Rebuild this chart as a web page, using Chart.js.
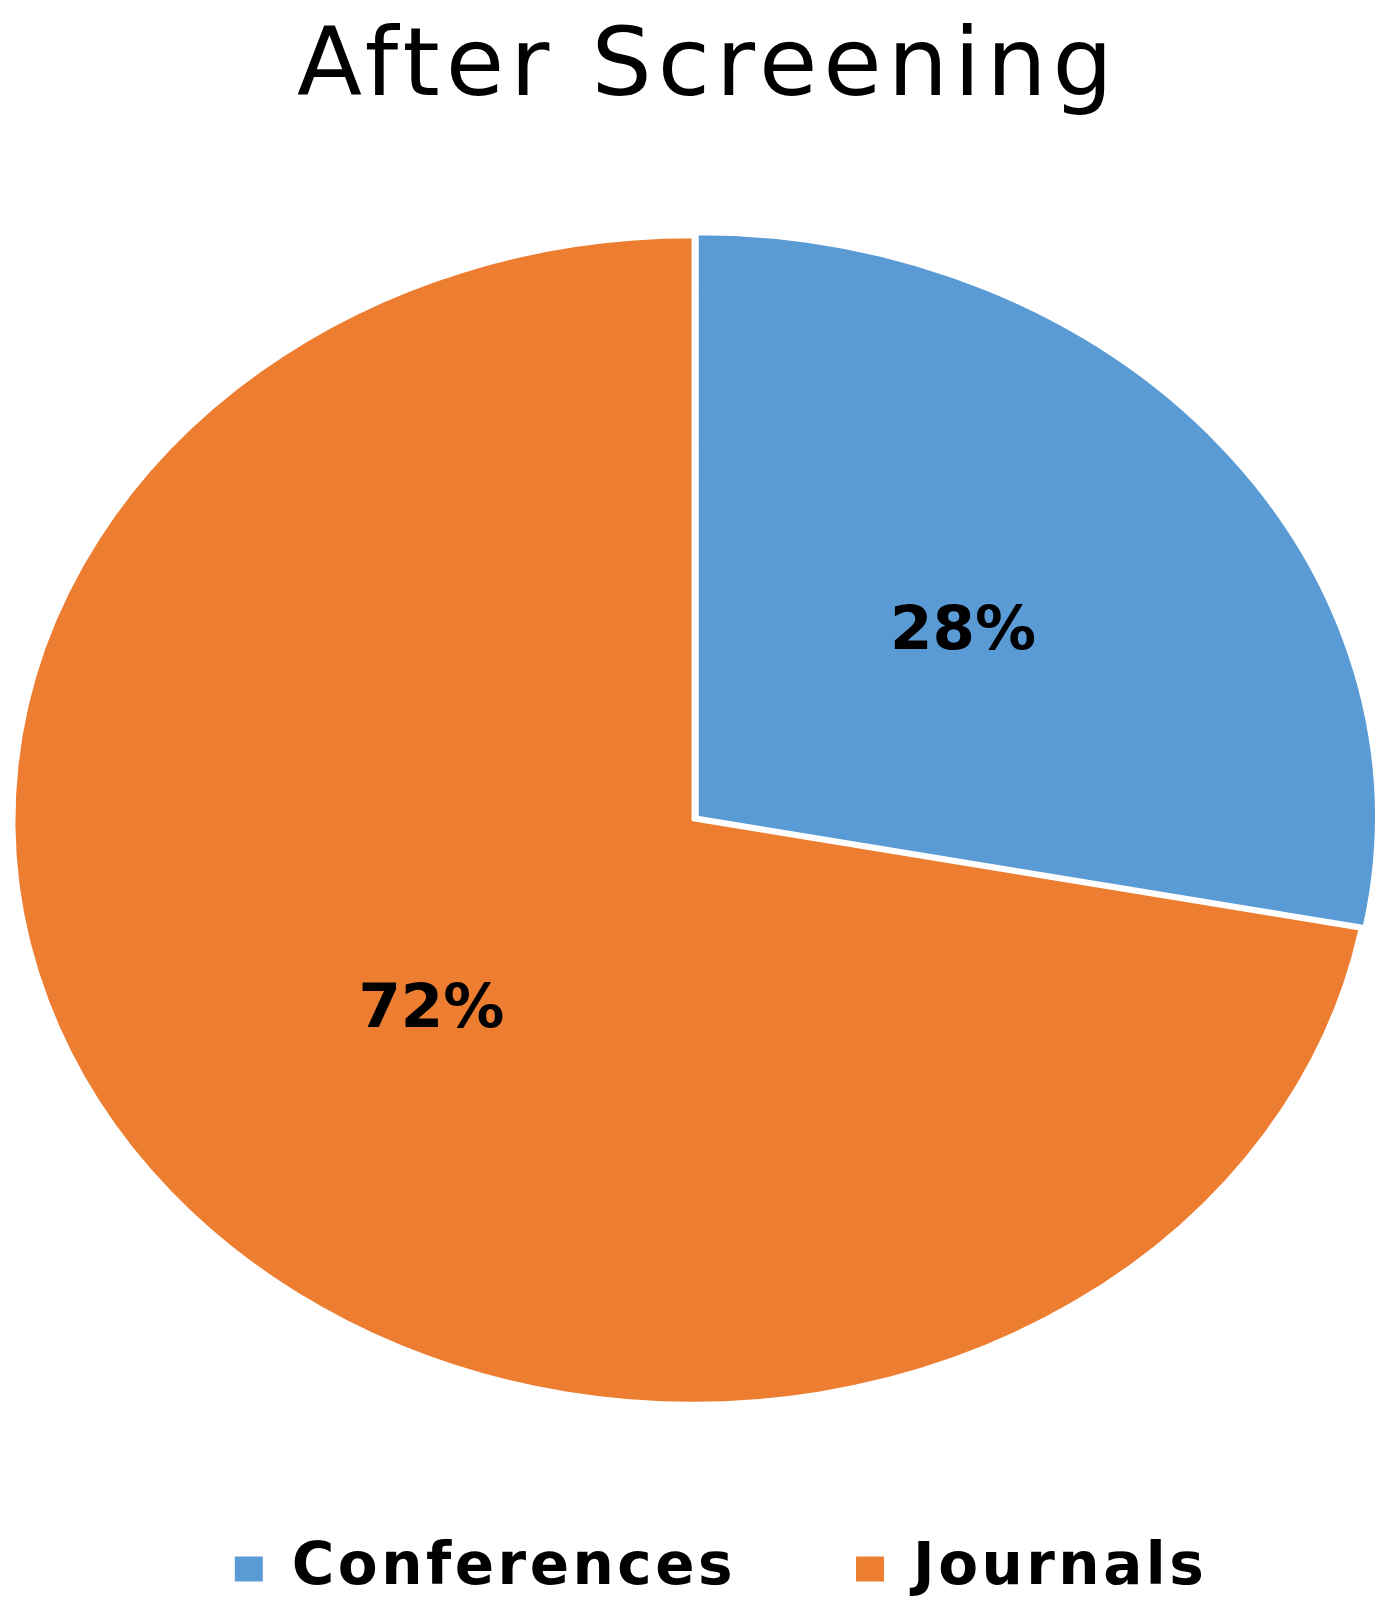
<!DOCTYPE html>
<html><head><meta charset="utf-8">
<script src="https://cdn.jsdelivr.net/npm/chart.js@4.4.1/dist/chart.umd.min.js"></script>
<style>html,body{margin:0;padding:0;background:#fff;} #wrap{width:1400px;height:1608px;}</style>
</head><body><div id="wrap"><canvas id="c" width="1400" height="1608"></canvas></div>
<script>
const categories = ['Conferences', 'Journals'];
const shares = [28, 72];
const sliceColors = ['#5B9BD5', '#ED7D31'];
const sliceOffsets = [22, 0];
const titleText = 'After Screening';

// The reference pie is an ellipse (horizontally stretched picture)
const PIE_RADIUS = 679;
const Y_SCALE = 583 / 679;
const PIE_SHIFT_X = -15;
const LEGEND_SHIFT_X = 13;
const TITLE_SPACING = '6px';
const LEGEND_SPACING = '3.5px';

Chart.defaults.font.family = '"DejaVu Sans", sans-serif';
Chart.defaults.color = '#000';

function styleBox(box, spacing, shiftX) {
  if (!box || box.__styled) return;
  const wrap = (fn) => function (...args) {
    const c = this.ctx;
    const prev = c.letterSpacing;
    c.save();
    c.letterSpacing = spacing;
    if (fn === 'draw' && shiftX) c.translate(shiftX, 0);
    try { return orig[fn].apply(this, args); }
    finally { c.restore(); c.letterSpacing = prev; }
  };
  const orig = { draw: box.draw, fit: box.fit };
  box.draw = wrap('draw');
  box.fit = wrap('fit');
  box.__styled = true;
}

const spacingPlugin = {
  id: 'spacing',
  beforeLayout(chart) {
    styleBox(chart.titleBlock, TITLE_SPACING, 0);
    styleBox(chart.legend, LEGEND_SPACING, LEGEND_SHIFT_X);
  }
};

const ellipsePlugin = {
  id: 'ellipse',
  beforeDatasetsDraw(chart) {
    const ctx = chart.ctx, a = chart.chartArea;
    const cx = (a.left + a.right) / 2, cy = (a.top + a.bottom) / 2;
    ctx.save();
    ctx.translate(cx + PIE_SHIFT_X, cy);
    ctx.scale(1, Y_SCALE);
    ctx.translate(-cx, -cy);
  },
  afterDatasetsDraw(chart) {
    const ctx = chart.ctx, a = chart.chartArea;
    ctx.restore();
    const cy = (a.top + a.bottom) / 2;
    const meta = chart.getDatasetMeta(0);
    ctx.save();
    ctx.letterSpacing = '0px';
    ctx.font = 'bold 61px "DejaVu Sans"';
    ctx.fillStyle = '#000';
    ctx.textAlign = 'center';
    ctx.textBaseline = 'middle';
    meta.data.forEach((arc, i) => {
      const p = arc.tooltipPosition(true);
      ctx.fillText(shares[i] + '%', p.x + PIE_SHIFT_X, cy + (p.y - cy) * Y_SCALE + 5);
    });
    ctx.restore();
  }
};

new Chart(document.getElementById('c'), {
  type: 'pie',
  data: {
    labels: categories,
    datasets: [{
      data: shares,
      backgroundColor: sliceColors,
      borderColor: '#ffffff',
      borderWidth: 3,
      offset: sliceOffsets,
      hoverOffset: 0,
      radius: PIE_RADIUS,
      clip: false
    }]
  },
  options: {
    responsive: false,
    devicePixelRatio: 1,
    animation: false,
    events: [],
    layout: { padding: { left: 16, right: 0, top: 0, bottom: 0 } },
    plugins: {
      title: {
        display: true,
        text: titleText,
        color: '#000',
        font: { size: 95, weight: 'normal', family: '"DejaVu Sans"' },
        padding: { top: 13, bottom: 93 }
      },
      legend: {
        position: 'bottom',
        labels: {
          color: '#000',
          font: { size: 58, weight: 'bold', family: '"DejaVu Sans"' },
          boxWidth: 28,
          boxHeight: 25,
          padding: 120,
          generateLabels(chart) {
            const items = Chart.overrides.pie.plugins.legend.labels.generateLabels(chart);
            return items.map(it => Object.assign(it, { lineWidth: 0, strokeStyle: 'rgba(0,0,0,0)' }));
          }
        }
      },
      tooltip: { enabled: false }
    }
  },
  plugins: [spacingPlugin, ellipsePlugin]
});
</script>
</body></html>
